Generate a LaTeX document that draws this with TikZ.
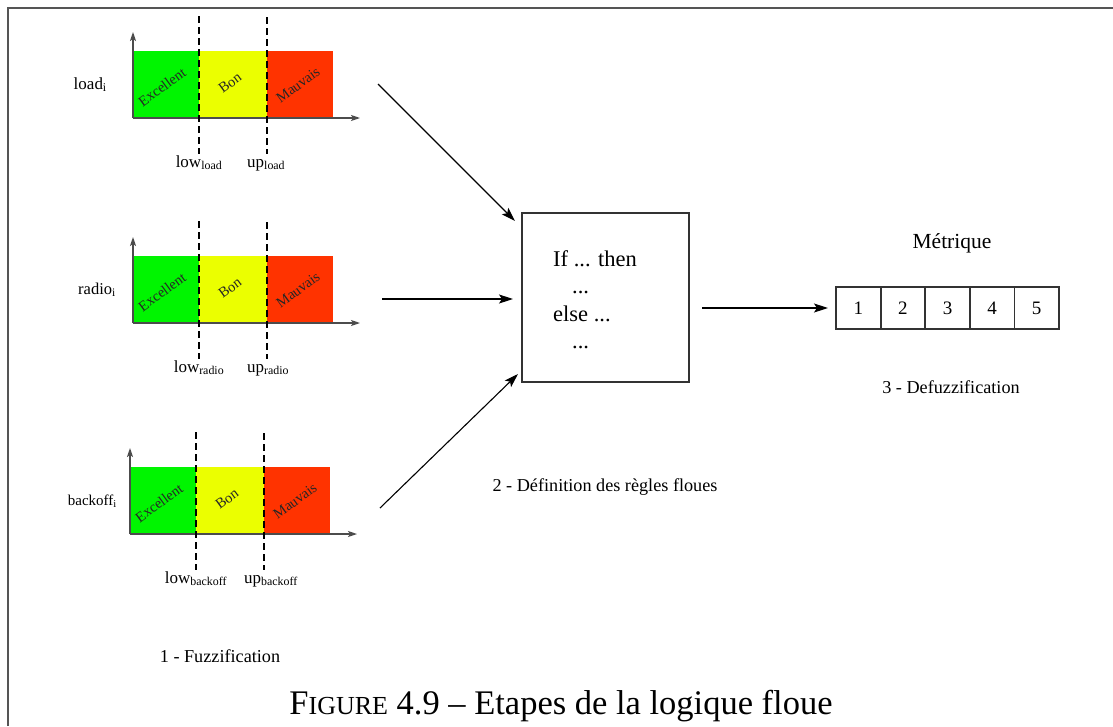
\documentclass[tikz,border=0pt]{standalone}
\usepackage{fontspec}
\setmainfont{Liberation Serif}
\usetikzlibrary{arrows.meta}
\definecolor{fzgreen}{RGB}{0,245,0}
\definecolor{fzyellow}{RGB}{235,255,0}
\definecolor{fzred}{RGB}{255,51,0}
\definecolor{framegray}{RGB}{85,85,85}
\tikzset{
 axisline/.style={draw=black!70, line width=1.4pt, -{Stealth[length=9pt,width=6pt,inset=2pt]}},
 dashline/.style={draw=black, line width=2.8pt, dash pattern=on 7pt off 4pt},
 fuzzlabel/.style={rotate=36, font=\fontsize{14.5}{16}\selectfont, inner sep=0pt, text=black!85},
 flow/.style={draw=black, line width=1.1pt, -{Stealth[length=14pt,width=9pt,inset=3pt]}},
 cell/.style={draw=black!80, line width=1.8pt, minimum width=44.6pt, minimum height=42pt, inner sep=0pt, outer sep=0pt, font=\fontsize{19}{21}\selectfont},
 txt/.style={inner sep=0pt, font=\fontsize{18.2}{21}\selectfont},
 bndlabel/.style={inner sep=0pt, font=\fontsize{17}{19}\selectfont},
 ruletxt/.style={inner sep=0pt, anchor=base west, font=\fontsize{22.5}{25}\selectfont},
}
% #1 prefix, #2 shift, #3 label right x, #4 label, #5 low sub, #6 up sub
\newcommand\fzchart[6]{%
\begin{scope}[shift={(#2)}]
 \fill[fzgreen] (133,51) rectangle (199,118);
 \fill[fzyellow] (199,51) rectangle (267,118);
 \fill[fzred] (267,51) rectangle (333,118);
 \coordinate (#1-o) at (133,118);
 \coordinate (#1-yt) at (133,32);
 \coordinate (#1-xt) at (360,118);
 \draw[axisline] (#1-o) -- (#1-yt);
 \draw[axisline] (#1-o) -- (#1-xt);
 \coordinate (#1-la) at (199,16);
 \coordinate (#1-lb) at (199,154);
 \coordinate (#1-ua) at (267,17);
 \coordinate (#1-ub) at (267,154);
 \draw[dashline] (#1-la) -- (#1-lb);
 \draw[dashline] (#1-ua) -- (#1-ub);
 \node[fuzzlabel] (#1-ex) at (162,87) {Excellent};
 \node[fuzzlabel] (#1-bon) at (230,83) {Bon};
 \node[fuzzlabel] (#1-mv) at (298,85) {Mauvais};
 \node[txt, anchor=base east] (#1-name) at (#3,89) {#4};
 \node[bndlabel, anchor=base] (#1-low) at (199,167) {low\textsubscript{#5}};
 \node[bndlabel, anchor=base west] (#1-up) at (247,167) {up\textsubscript{#6}};
\end{scope}}
\begin{document}
\begin{tikzpicture}[x=1pt,y=-1pt]
\useasboundingbox (0,0) rectangle (1113,726);
\fill[white] (0,0) rectangle (1113,726);
% frame
\coordinate (fbl) at (8,726);
\coordinate (ftl) at (8,7.5);
\coordinate (ftr) at (1113,7.5);
\draw[framegray, line width=2pt] (fbl) -- (ftl) -- (ftr);

\fzchart{c1}{0,0}{107}{{\fontsize{17}{19}\selectfont load\textsubscript{i}}}{load}{load}
\fzchart{c2}{0,205}{116}{{\fontsize{16.5}{19}\selectfont radio\textsubscript{i}}}{radio}{radio}
\fzchart{c3}{-3,416}{120}{{\fontsize{15}{17}\selectfont backoff\textsubscript{i}}}{backoff}{backoff}

\node[txt] (fuzz) at (220,656) {1 - Fuzzification};

% rules box
\node[draw=black!80, line width=1.8pt, minimum width=167pt, minimum height=169pt, inner sep=0pt] (rules) at (605.5,297.5) {};
\node[ruletxt] (r1) at (553,266) {If ... then};
\node[ruletxt] (r2) at (572,293.5) {...};
\node[ruletxt] (r3) at (553,321) {else ...};
\node[ruletxt] (r4) at (572,348.5) {...};
\node[txt] (defr) at (605,487) {2 - Définition des règles floues};

% arrows into rules
\coordinate (a1s) at (378,84);
\coordinate (a1e) at (515,221);
\coordinate (a2s) at (382,299);
\coordinate (a2e) at (513,299);
\coordinate (a3s) at (380,508);
\coordinate (a3e) at (518,374);
\draw[flow] (a1s) -- (a1e);
\draw[flow] (a2s) -- (a2e);
\draw[flow] (a3s) -- (a3e);

% metric
\node[cell] (m1) at (858.3,308) {1};
\node[cell] (m2) at (902.9,308) {2};
\node[cell] (m3) at (947.5,308) {3};
\node[cell] (m4) at (992.1,308) {4};
\node[cell] (m5) at (1036.7,308) {5};
\node[inner sep=0pt, font=\fontsize{21.5}{24}\selectfont] (metr) at (952,243) {Métrique};
\node[txt] (defuzz) at (951,387) {3 - Defuzzification};
\coordinate (a4s) at (702,308);
\draw[flow, shorten >=8pt] (a4s) -- (m1.west);

% caption
\node[inner sep=0pt, anchor=base, font=\fontsize{34.5}{38}\selectfont] (cap) at (561,714) {F{\fontsize{26}{30}\selectfont IGURE} 4.9 – Etapes de la logique floue};
\end{tikzpicture}
\end{document}
